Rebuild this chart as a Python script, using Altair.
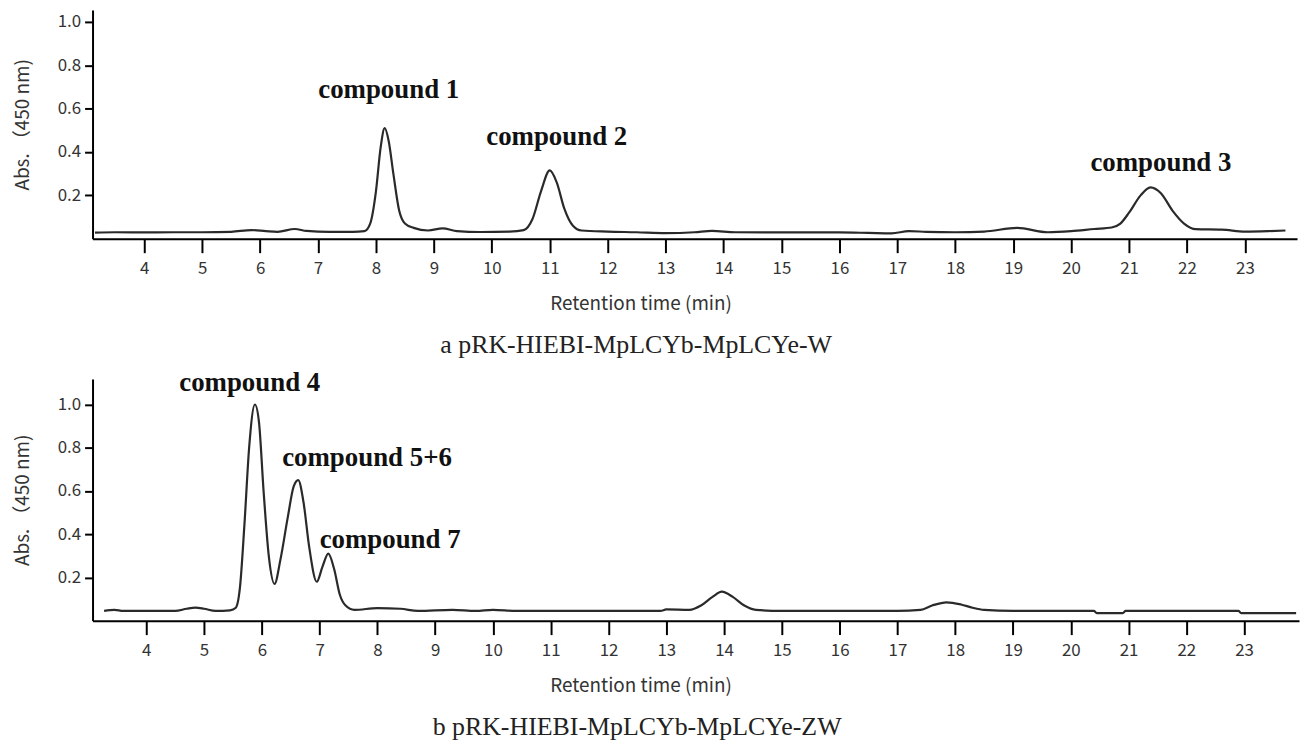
import altair as alt
import pandas as pd

# ---- Panel a: pRK-HIEBI-MpLCYb-MpLCYe-W ----
a_time = [3.15, 3.5, 4.0, 4.5, 5.0, 5.5, 5.85, 6.1, 6.3, 6.6, 6.8, 7.2, 7.6, 7.8, 7.9,
          8.0, 8.08, 8.15, 8.22, 8.3, 8.4, 8.5, 8.65, 8.9, 9.15, 9.4, 9.8, 10.3, 10.55,
          10.7, 10.85, 11.0, 11.12, 11.25, 11.4, 11.55, 12.0, 12.5, 13.0, 13.5, 13.8,
          14.2, 15.0, 16.0, 16.5, 16.9, 17.2, 17.5, 18.0, 18.5, 19.07, 19.6, 20.0, 20.4,
          20.7, 20.85, 21.0, 21.2, 21.37, 21.55, 21.75, 21.95, 22.15, 22.6, 23.0, 23.4, 23.7]
a_abs = [0.028, 0.03, 0.029, 0.03, 0.03, 0.032, 0.04, 0.035, 0.032, 0.045, 0.036, 0.032,
         0.032, 0.035, 0.07, 0.22, 0.42, 0.51, 0.45, 0.30, 0.13, 0.07, 0.05, 0.038, 0.048,
         0.035, 0.031, 0.033, 0.04, 0.09, 0.22, 0.315, 0.26, 0.14, 0.06, 0.038, 0.033,
         0.03, 0.026, 0.03, 0.036, 0.03, 0.029, 0.029, 0.027, 0.025, 0.035, 0.032, 0.03,
         0.033, 0.05, 0.03, 0.035, 0.045, 0.052, 0.07, 0.12, 0.20, 0.237, 0.21, 0.13,
         0.07, 0.044, 0.042, 0.033, 0.035, 0.038]
a_labels = ["compound 1", "compound 2", "compound 3"]
a_label_time = [8.22, 11.12, 21.55]
a_label_abs = [0.687, 0.471, 0.347]

# ---- Panel b: pRK-HIEBI-MpLCYb-MpLCYe-ZW ----
b_time = [3.27, 3.45, 3.6, 4.0, 4.5, 4.7, 4.85, 5.0, 5.2, 5.45, 5.55, 5.62, 5.7, 5.78,
          5.88, 5.95, 6.03, 6.12, 6.22, 6.32, 6.45, 6.55, 6.63, 6.72, 6.82, 6.95, 7.05,
          7.15, 7.25, 7.35, 7.45, 7.6, 8.0, 8.4, 8.7, 9.3, 9.7, 10.0, 10.4, 11.0, 12.0,
          12.9, 13.0, 13.4, 13.6, 13.8, 13.96, 14.15, 14.35, 14.55, 15.0, 16.0, 17.0,
          17.4, 17.6, 17.85, 18.1, 18.3, 18.5, 19.0, 20.0, 20.4, 20.45, 20.9, 20.95,
          22.0, 22.9, 22.95, 23.9]
b_abs = [0.045, 0.05, 0.045, 0.045, 0.045, 0.055, 0.06, 0.055, 0.045, 0.048, 0.06, 0.15,
         0.45, 0.80, 1.0, 0.92, 0.60, 0.30, 0.17, 0.28, 0.48, 0.62, 0.65, 0.55, 0.34,
         0.18, 0.25, 0.31, 0.24, 0.12, 0.07, 0.05, 0.058, 0.055, 0.045, 0.05, 0.045,
         0.05, 0.045, 0.045, 0.045, 0.045, 0.052, 0.05, 0.07, 0.11, 0.134, 0.11, 0.07,
         0.05, 0.045, 0.045, 0.045, 0.05, 0.07, 0.085, 0.075, 0.06, 0.05, 0.045, 0.045,
         0.045, 0.035, 0.035, 0.045, 0.045, 0.045, 0.035, 0.035]
b_labels = ["compound 4", "compound 5+6", "compound 7"]
b_label_time = [5.79, 7.82, 8.22]
b_label_abs = [1.10, 0.75, 0.372]

x_ticks = list(range(4, 24))
y_ticks = [0.2, 0.4, 0.6, 0.8, 1.0]

AXIS_FONT = "Noto Sans CJK JP"
SERIF = "Liberation Serif"


def panel(times, absorb, labels, ltimes, labs, xdom, ymax, w, h, subtitle):
    df = pd.DataFrame({"t": times, "a": absorb})
    lab = pd.DataFrame({"t": ltimes, "a": labs, "txt": labels})
    x = alt.X("t:Q", scale=alt.Scale(domain=xdom, nice=False, zero=False),
              axis=alt.Axis(values=x_ticks, format="d", title="Retention time (min)",
                            grid=False, tickSize=14, labelPadding=8, titlePadding=18,
                            titleX=551, labelFlush=False))
    y = alt.Y("a:Q", scale=alt.Scale(domain=[0, ymax], nice=False),
              axis=alt.Axis(values=y_ticks, format=".1f", title="Abs. （450 nm)",
                            grid=False, tickSize=8, labelPadding=4, titlePadding=25))
    line = alt.Chart(df).mark_line(color="#2a2a2a", strokeWidth=2.2,
                                   interpolate="monotone").encode(x=x, y=y)
    txt = alt.Chart(lab).mark_text(font=SERIF, fontWeight="bold", fontSize=27,
                                   color="#111111", baseline="middle").encode(
        x=alt.X("t:Q"), y=alt.Y("a:Q"), text="txt:N")
    return alt.layer(line, txt).properties(
        width=w, height=h,
        title=alt.TitleParams(subtitle, orient="bottom", font=SERIF, fontSize=26,
                              fontWeight="normal", color="#222222", dx=-59, offset=19))


pa = panel(a_time, a_abs, a_labels, a_label_time, a_label_abs,
           [3.107, 23.9], 1.055, 1211, 230, "a pRK-HIEBI-MpLCYb-MpLCYe-W")
pb = panel(b_time, b_abs, b_labels, b_label_time, b_label_abs,
           [3.07, 23.95], 1.118, 1213, 243, "b pRK-HIEBI-MpLCYb-MpLCYe-ZW")

chart = alt.vconcat(pa, pb, spacing=10).properties(
    padding={"left": 5, "top": 0, "right": 0, "bottom": 0}
).configure_view(
    stroke=None
).configure_axis(
    domainColor="#000000", domainWidth=2, tickColor="#000000", tickWidth=2,
    labelColor="#333333", titleColor="#333333", labelFont=AXIS_FONT,
    titleFont=AXIS_FONT, labelFontSize=17, titleFontSize=19, titleFontWeight="normal"
)

chart.save("out.html", embed_options={"renderer": "svg", "actions": False})
